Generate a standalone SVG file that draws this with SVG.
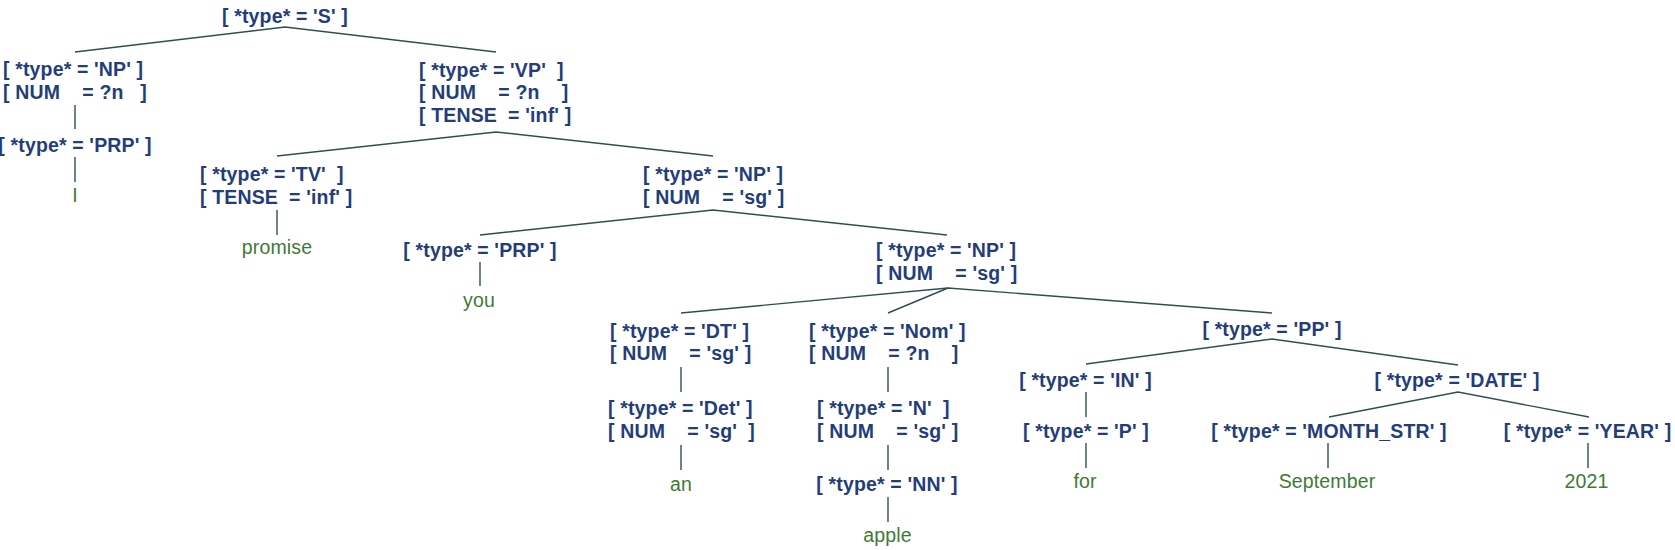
<svg xmlns="http://www.w3.org/2000/svg" width="1675" height="550" viewBox="0 0 1675 550">
<style>
.f{font-family:"Liberation Sans",Arial,Helvetica,sans-serif;font-weight:bold;font-size:19.5px;fill:#243d79;white-space:pre;letter-spacing:0.15px}
.c{text-anchor:middle}
.w{font-family:"Liberation Sans",Arial,Helvetica,sans-serif;font-size:19.5px;fill:#3e7a35;text-anchor:middle;letter-spacing:0.15px}
.e line,.e polyline{stroke:#2f4f4f;stroke-width:1.4;fill:none}
</style>
<rect width="1675" height="550" fill="#fff"/>
<g class="e" id="connectors">
<polyline points="75,52 285,27 496,52"/>
<line x1="75" y1="105" x2="75" y2="129"/>
<line x1="75" y1="157" x2="75" y2="182"/>
<polyline points="277,156 496,132 713,156"/>
<line x1="277" y1="210" x2="277" y2="235"/>
<polyline points="480,235 713,210 947,235"/>
<line x1="480" y1="262" x2="480" y2="286"/>
<polyline points="681,313 948,288 1272,313"/>
<line x1="948" y1="288" x2="888" y2="313"/>
<line x1="681" y1="367" x2="681" y2="392"/>
<line x1="681" y1="445" x2="681" y2="470"/>
<line x1="888" y1="367" x2="888" y2="392"/>
<line x1="888" y1="445" x2="888" y2="470"/>
<line x1="888" y1="497" x2="888" y2="522"/>
<polyline points="1086,364 1272,339 1458,365"/>
<line x1="1086" y1="392" x2="1086" y2="417"/>
<line x1="1086" y1="443" x2="1086" y2="468"/>
<polyline points="1329,417 1458,392 1589,417"/>
<line x1="1328" y1="443" x2="1328" y2="468"/>
<line x1="1588" y1="443" x2="1588" y2="468"/>
</g>
<g id="n-S"><text class="f c" x="285" y="23">[ *type* = 'S' ]</text></g>
<g id="n-NP1"><text class="f" x="3" y="76">[ *type* = 'NP' ]</text><text class="f" x="3" y="98.5">[ NUM    = ?n   ]</text></g>
<g id="n-PRP1"><text class="f c" x="75" y="152">[ *type* = 'PRP' ]</text></g>
<g id="n-I"><text class="w" x="75" y="202">I</text></g>
<g id="n-VP"><text class="f" x="419" y="76.5">[ *type* = 'VP'  ]</text><text class="f" x="419" y="99">[ NUM    = ?n    ]</text><text class="f" x="419" y="121.5">[ TENSE  = 'inf' ]</text></g>
<g id="n-TV"><text class="f" x="200" y="181">[ *type* = 'TV'  ]</text><text class="f" x="200" y="203.5">[ TENSE  = 'inf' ]</text></g>
<g id="n-promise"><text class="w" x="277" y="254">promise</text></g>
<g id="n-NP2"><text class="f" x="643" y="181">[ *type* = 'NP' ]</text><text class="f" x="643" y="203.5">[ NUM    = 'sg' ]</text></g>
<g id="n-PRP2"><text class="f c" x="480" y="257">[ *type* = 'PRP' ]</text></g>
<g id="n-you"><text class="w" x="479" y="307">you</text></g>
<g id="n-NP3"><text class="f" x="876" y="257">[ *type* = 'NP' ]</text><text class="f" x="876" y="279.5">[ NUM    = 'sg' ]</text></g>
<g id="n-DT"><text class="f" x="610" y="337.7">[ *type* = 'DT' ]</text><text class="f" x="610" y="360">[ NUM    = 'sg' ]</text></g>
<g id="n-Det"><text class="f" x="608" y="415">[ *type* = 'Det' ]</text><text class="f" x="608" y="437.7">[ NUM    = 'sg'  ]</text></g>
<g id="n-an"><text class="w" x="681" y="490.5">an</text></g>
<g id="n-Nom"><text class="f" x="809" y="337.7">[ *type* = 'Nom' ]</text><text class="f" x="809" y="360">[ NUM    = ?n    ]</text></g>
<g id="n-N"><text class="f" x="817" y="415">[ *type* = 'N'  ]</text><text class="f" x="817" y="437.7">[ NUM    = 'sg' ]</text></g>
<g id="n-NN"><text class="f c" x="887" y="491">[ *type* = 'NN' ]</text></g>
<g id="n-apple"><text class="w" x="887.5" y="542">apple</text></g>
<g id="n-PP"><text class="f c" x="1272" y="335.7">[ *type* = 'PP' ]</text></g>
<g id="n-IN"><text class="f c" x="1085.5" y="386.7">[ *type* = 'IN' ]</text></g>
<g id="n-P"><text class="f c" x="1086" y="438.3">[ *type* = 'P' ]</text></g>
<g id="n-for"><text class="w" x="1085" y="488.3">for</text></g>
<g id="n-DATE"><text class="f c" x="1457" y="386.7">[ *type* = 'DATE' ]</text></g>
<g id="n-MONTH"><text class="f c" x="1329" y="438.3">[ *type* = 'MONTH_STR' ]</text></g>
<g id="n-September"><text class="w" x="1327" y="488.3">September</text></g>
<g id="n-YEAR"><text class="f c" x="1587.5" y="438.3">[ *type* = 'YEAR' ]</text></g>
<g id="n-2021"><text class="w" x="1586.5" y="488">2021</text></g>
</svg>
